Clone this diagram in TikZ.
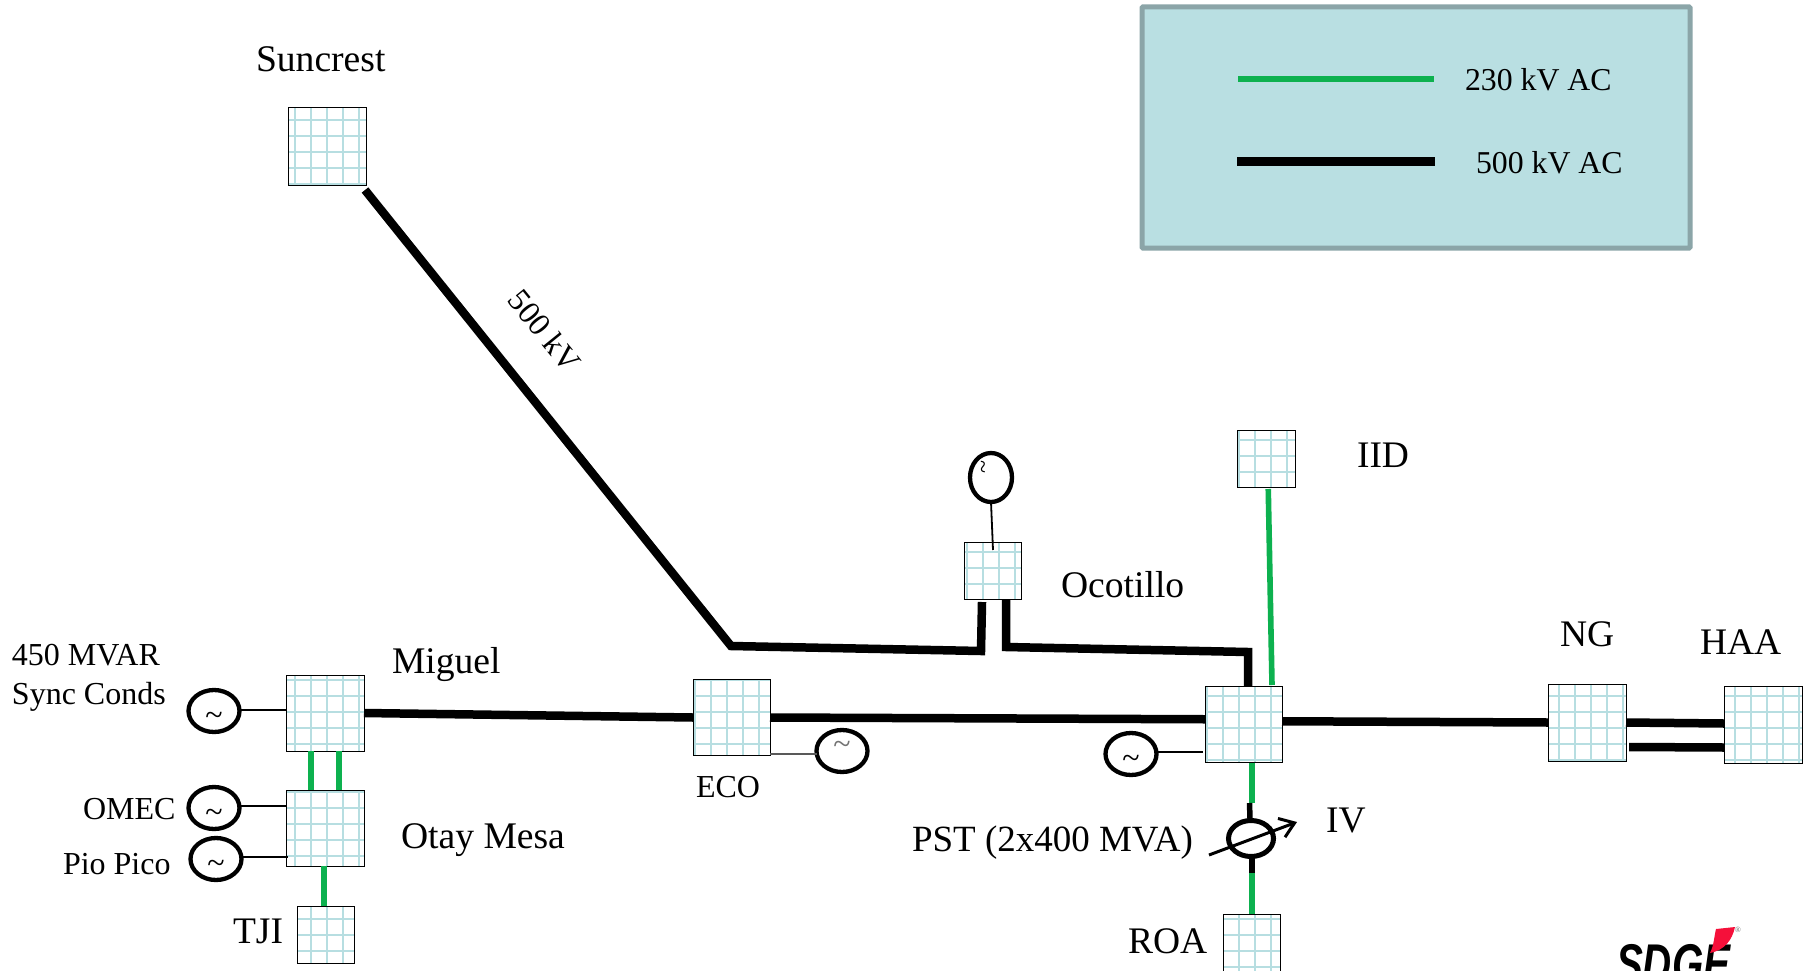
\documentclass[tikz,border=0pt]{standalone}
\usepackage{fontspec}
\setmainfont{Liberation Serif}
\newfontfamily\logofont{Liberation Sans}
\usetikzlibrary{shapes.geometric,arrows.meta,calc}
\definecolor{gridblue}{HTML}{B7DEE1}
\definecolor{linegreen}{HTML}{0DB14F}
\definecolor{legendfill}{HTML}{B9DFE2}
\definecolor{legendedge}{HTML}{8BA5A8}
\definecolor{logored}{HTML}{F5103A}
\tikzset{
  busbox/.style={rectangle,inner sep=0pt,outer sep=0pt,anchor=north west,fill=white},
  kvfive/.style={line width=8.5pt,black},
  kvtwo/.style={line width=5.6pt,linegreen},
  genlead/.style={line width=1.8pt,black},
  gencirc/.style={draw=black,line width=4.3pt,ellipse,inner sep=0pt,outer sep=0pt,minimum width=51pt,minimum height=42pt,fill=white},
  lab/.style={inner sep=0pt,outer sep=0pt,anchor=base west,font=\fontsize{#1}{#1}\selectfont},
  tildemark/.style={inner sep=0pt,outer sep=0pt,font=\fontsize{32}{32}\selectfont},
}
% name, x0, y0, x1, y1, first grid x, first grid y
\newcommand{\bus}[7]{%
  \node[busbox,minimum width=#4pt-#2pt,minimum height=#5pt-#3pt] (#1) at (#2,#3) {};
  \begin{scope}
    \clip (#1.north west) rectangle (#1.south east);
    \foreach \gi in {0,...,6} {
      \draw[gridblue,line width=1.7pt] (#6+16*\gi,#3) -- (#6+16*\gi,#5);
      \draw[gridblue,line width=1.7pt] (#2,#7+16*\gi) -- (#4,#7+16*\gi);
    }
  \end{scope}
  \draw[black,line width=1pt] (#1.north west) rectangle (#1.south east);
}
\begin{document}
\begin{tikzpicture}[x=1pt,y=-1pt]
\useasboundingbox (0,0) rectangle (1814,971);
\clip (0,0) rectangle (1814,971);
% legend
\node[draw=legendedge,fill=legendfill,line width=5pt,rounded corners=1pt,rectangle,anchor=north west,inner sep=0pt,outer sep=0pt,minimum width=548pt,minimum height=241pt] (legend) at (1142,7) {};
\coordinate (g1) at (1238,79); \coordinate (g2) at (1434,79);
\coordinate (b1) at (1237,161.5); \coordinate (b2) at (1435,161.5);
\draw[kvtwo] (g1) -- (g2);
\draw[line width=8.5pt] (b1) -- (b2);
\node[lab=31.8] (l230) at (1465,91) {230 kV AC};
\node[lab=31.8] (l500) at (1476,173) {500 kV AC};
% buses
\bus{sun}{288.5}{108}{366}{185}{295}{120}
\bus{mig}{286}{675}{364}{751}{295}{680}
\bus{oty}{286}{790}{364}{866}{295}{792}
\bus{tji}{297}{906}{354}{963}{311}{919}
\bus{eco}{693}{679}{770}{755}{695}{680}
\bus{oco}{964}{542}{1021}{599}{967}{552}
\bus{iid}{1237.5}{430}{1295}{487}{1239}{440}
\bus{ivb}{1205}{686}{1282}{762.5}{1207}{696}
\bus{roa}{1223}{914}{1280}{976}{1239}{919}
\bus{ngb}{1548}{684}{1626}{761}{1559}{696}
\bus{haa}{1724}{686}{1802}{763}{1735}{696}
% 500 kV lines
\coordinate (j1) at (731,646);
\coordinate (oc1) at (981,651);
\coordinate (oc2) at (982,602);
\coordinate (oc3) at (1006,599);
\coordinate (oc4) at (1006,647);
\coordinate (iv1) at (1248,652);
\draw[kvfive,miter limit=10] ($(sun.south east)+(-1,5)$) -- (j1) -- (oc1) -- (oc2);
\draw[kvfive] (oc3) -- (oc4) -- (iv1) -- (iv1|-ivb.north);
\draw[kvfive] (mig.east) -- ($(eco.west)+(0,0.5)$);
\draw[kvfive] ($(eco.east)+(0,0.5)$) -- ($(ivb.west)+(0,-5)$);
\draw[kvfive] ($(ivb.east)+(0,-3)$) -- (ngb.west);
\draw[line width=8.5pt] (ngb.east) -- ($(haa.west)+(0,-1)$);
\draw[line width=8.5pt] ($(ngb.east)+(3,24.5)$) -- ($(haa.west)+(0,23)$);
% 230 kV lines
\draw[kvtwo] (mig.south -| 311,0) -- (oty.north -| 311,0);
\draw[kvtwo] (mig.south -| 339,0) -- (oty.north -| 339,0);
\draw[kvtwo] (oty.south -| 324,0) -- (tji.north -| 324,0);
\draw[kvtwo] ($(iid.south)+(2,2)$) -- (1272,685);
\coordinate (ps1) at (1252,803);
\coordinate (ps2) at (1252,873);
\draw[kvtwo] (ivb.south -| ps1) -- (ps1);
\draw[kvtwo] (ps2) -- (roa.north -| ps2);
% phase shifter
\node[gencirc,fill=none,minimum width=45pt,minimum height=36pt,line width=5pt] (pst) at (1251,838.5) {};
\draw[line width=5.5pt] (1249.5,803) -- (1250,819);
\draw[line width=5.5pt] (1252,858) -- (1252,873);
\coordinate (pa1) at (1209,855);
\coordinate (pa2) at (1297,822);
\draw[line width=3pt,-{Straight Barb[length=14pt,width=20pt,line width=3pt]}] (pa1) -- (pa2);
% generators
\node[gencirc] (g1a) at (214,711) {};
\node[gencirc] (g2a) at (214,808) {};
\node[gencirc] (g3a) at (216,859) {};
\node[gencirc] (g4a) at (842,751) {};
\node[gencirc] (g5a) at (1131,754) {};
\node[gencirc,minimum width=42pt,minimum height=49pt] (g6a) at (991,477.5) {};
\draw[genlead] (g1a.east |- 0,710) -- (mig.west |- 0,710);
\draw[genlead] (g2a.east |- 0,806) -- (oty.west |- 0,806);
\draw[genlead] (g3a.east |- 0,857) -- (288,857);
\draw[genlead,black!65] (g4a.west |- 0,754) -- (eco.east |- 0,754);
\draw[genlead] (g5a.east |- 0,752) -- (1203,752);
\draw[genlead] (g6a.south) -- (993,550);
\node[tildemark] (t1) at (214,719) {\textasciitilde};
\node[tildemark] (t2) at (214,816) {\textasciitilde};
\node[tildemark] (t3) at (216,867) {\textasciitilde};
\node[tildemark,text=black!55] (t4) at (842,748) {\textasciitilde};
\node[tildemark] (t5) at (1131,762) {\textasciitilde};
\node[tildemark,rotate=90,font=\fontsize{24}{24}\selectfont] (t6) at (986,467) {\textasciitilde};
% labels
\node[lab=37.6] (lsun) at (256,72) {Suncrest};
\node[lab=32,anchor=center,rotate=-51] (l500kv) at (544.5,331) {500 kV};
\node[lab=37.6] (lmig) at (392,673) {Miguel};
\node[lab=37.6] (loty) at (401,848) {Otay Mesa};
\node[lab=37.6] (loco) at (1061,597) {Ocotillo};
\node[lab=37.5] (liid) at (1357,467) {IID};
\node[lab=37.5] (lng) at (1560,646) {NG};
\node[lab=37.5] (lhaa) at (1700,654) {HAA};
\node[lab=37.5] (liv) at (1326,832) {IV};
\node[lab=37.5] (lroa) at (1128,953) {ROA};
\node[lab=37] (lpst) at (912,851) {PST (2x400 MVA)};
\node[lab=37.5] (ltji) at (233,943) {TJI};
\node[lab=32] (leco) at (696,797) {ECO};
\node[lab=32] (l450) at (12,665) {450 MVAR};
\node[lab=32] (lsync) at (12,704) {Sync Conds};
\node[lab=32] (lomec) at (83,819) {OMEC};
\node[lab=32] (lpio) at (63,874) {Pio Pico};
% logo
\node[inner sep=0pt,outer sep=0pt,anchor=base west,xscale=.72,font=\logofont\bfseries\itshape\fontsize{56}{56}\selectfont] (logo) at (1616,983) {SDGE};
\fill[logored] (1716,929) -- (1735,927) .. controls (1732,940) and (1725,950) .. (1710,953) .. controls (1714,945) and (1714,937) .. (1716,929) -- cycle;
\node[inner sep=0pt,outer sep=0pt,text=black!55,font=\fontsize{8}{8}\selectfont] (reg) at (1738,930) {®};
\end{tikzpicture}
\end{document}
